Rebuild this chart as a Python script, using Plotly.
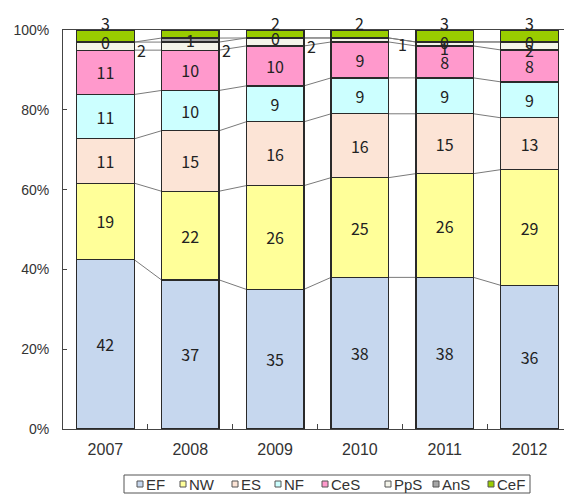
import plotly.graph_objects as go
import numpy as np

years = ["2007", "2008", "2009", "2010", "2011", "2012"]
series_names = ["EF", "NW", "ES", "NF", "CeS", "PpS", "AnS", "CeF"]
EF = [42, 37, 35, 38, 38, 36]
NW = [19, 22, 26, 25, 26, 29]
ES = [11, 15, 16, 16, 15, 13]
NF = [11, 10, 9, 9, 9, 9]
CeS = [11, 10, 10, 9, 8, 8]
PpS = [2, 2, 2, 1, 1, 2]
AnS = [0, 1, 0, None, 0, 0]
CeF = [3, 2, 2, 2, 3, 3]
y_ticks = [0, 20, 40, 60, 80, 100]
y_tick_labels = ["0%", "20%", "40%", "60%", "80%", "100%"]

colors = ["#c6d7ee", "#ffff99", "#fce4d6", "#ccffff", "#ff99cc", "#f4f4ea", "#a6a6a6", "#99cc00"]
all_vals = [EF, NW, ES, NF, CeS, PpS, AnS, CeF]

FONT = "Noto Sans CJK JP"
TICKFONT = "Liberation Sans"
LBL = dict(family=FONT, size=16, color="#222222")
BAR_W = 0.68

# figure geometry (page body adds an 8px offset)
FIG_W, FIG_H = 564, 488
M_L, M_T, M_B, M_R = 55, 22, 67, 0
PW = FIG_W - M_L - M_R
PH = FIG_H - M_T - M_B


def px_x(x):  # figure px -> paper
    return (x - M_L) / PW


def px_y(y):  # figure px (from top) -> paper
    return (FIG_H - M_B - y) / PH


fig = go.Figure()
arr = np.array([[v if v is not None else 0 for v in s] for s in all_vals], dtype=float)
totals = arr.sum(axis=0)
pct = arr / totals * 100
cum = np.cumsum(pct, axis=0)

inside = {"EF", "NW", "ES", "NF", "CeS"}
for name, vals, col in zip(series_names, all_vals, colors):
    fig.add_trace(go.Bar(
        x=years, y=vals, name=name,
        marker=dict(color=col, line=dict(color="#2a2a2a", width=1.3)),
        width=BAR_W,
        text=[str(v) if v is not None else "" for v in vals] if name in inside else None,
        textposition="inside" if name in inside else "none",
        insidetextanchor="middle",
        textfont=LBL,
        hoverinfo="skip",
        showlegend=False,
    ))

shapes = []
# series lines between adjacent bars
for k in range(len(series_names) - 1):
    for i in range(len(years) - 1):
        shapes.append(dict(type="line", xref="x", yref="y",
                           x0=i + BAR_W / 2, x1=i + 1 - BAR_W / 2,
                           y0=cum[k, i], y1=cum[k, i + 1],
                           line=dict(color="#7a7a7a", width=1), layer="below"))

annotations = []
k = series_names.index("PpS")
for i, v in enumerate(PpS):
    ymid = cum[k, i] - pct[k, i] / 2
    if i < 4:
        annotations.append(dict(x=i + BAR_W / 2, y=ymid, xref="x", yref="y", text=str(v),
                                showarrow=False, xanchor="left", xshift=1 + (6 if i == 3 else 0),
                                yshift=-4, font=LBL))
    else:
        annotations.append(dict(x=i, y=ymid, xref="x", yref="y", text=str(v),
                                showarrow=False, yshift=-4, font=LBL))
k = series_names.index("AnS")
for i, v in enumerate(AnS):
    if v is None:
        continue
    ymid = cum[k, i] - pct[k, i] / 2
    annotations.append(dict(x=i, y=ymid, xref="x", yref="y", text=str(v),
                            showarrow=False, font=LBL))
k = series_names.index("CeF")
for i, v in enumerate(CeF):
    annotations.append(dict(x=i, y=cum[k, i], xref="x", yref="y", text=str(v),
                            showarrow=False, yshift=7, font=LBL))

# legend (box with swatches and names, built from the series list)
LEG_X0, LEG_X1, LEG_Y0, LEG_Y1 = 116, 522, 467, 485
leg_item_x = [129, 172, 224, 267, 314, 377, 425, 480]
shapes.append(dict(type="rect", xref="paper", yref="paper",
                   x0=px_x(LEG_X0), x1=px_x(LEG_X1), y0=px_y(LEG_Y1), y1=px_y(LEG_Y0),
                   line=dict(color="#555555", width=1), fillcolor="rgba(0,0,0,0)"))
ymid_leg = (LEG_Y0 + LEG_Y1) / 2
for name, col, lx in zip(series_names, colors, leg_item_x):
    shapes.append(dict(type="rect", xref="paper", yref="paper",
                       x0=px_x(lx), x1=px_x(lx + 6), y0=px_y(ymid_leg + 3), y1=px_y(ymid_leg - 3),
                       line=dict(color="#555555", width=1), fillcolor=col))
    annotations.append(dict(x=px_x(lx + 7), y=px_y(ymid_leg), xref="paper", yref="paper",
                            text=name, showarrow=False, xanchor="left", yanchor="middle",
                            font=dict(family=TICKFONT, size=15, color="#333333")))

fig.update_layout(
    barmode="stack", barnorm="percent",
    width=FIG_W, height=FIG_H,
    margin=dict(l=M_L, r=M_R, t=M_T, b=M_B, autoexpand=False),
    paper_bgcolor="white", plot_bgcolor="white",
    font=dict(family=TICKFONT, size=14, color="#333333"),
    shapes=shapes, annotations=annotations,
    showlegend=False,
    xaxis=dict(type="category", showline=True, linecolor="#444444", linewidth=1, mirror=True,
               ticks="inside", ticklen=5, tickson="boundaries", tickcolor="#444444",
               automargin=False, ticklabelstandoff=6,
               tickfont=dict(family=TICKFONT, size=16, color="#333333"), range=[-0.5, 5.5]),
    yaxis=dict(range=[0, 100], tickvals=y_ticks, ticktext=y_tick_labels,
               showline=True, linecolor="#444444", linewidth=1, mirror=True,
               ticks="inside", ticklen=4, tickcolor="#444444", showgrid=False, zeroline=False,
               ticklabelstandoff=10, automargin=False,
               tickfont=dict(family=TICKFONT, size=14, color="#333333")),
)

fig.write_html("out.html")
